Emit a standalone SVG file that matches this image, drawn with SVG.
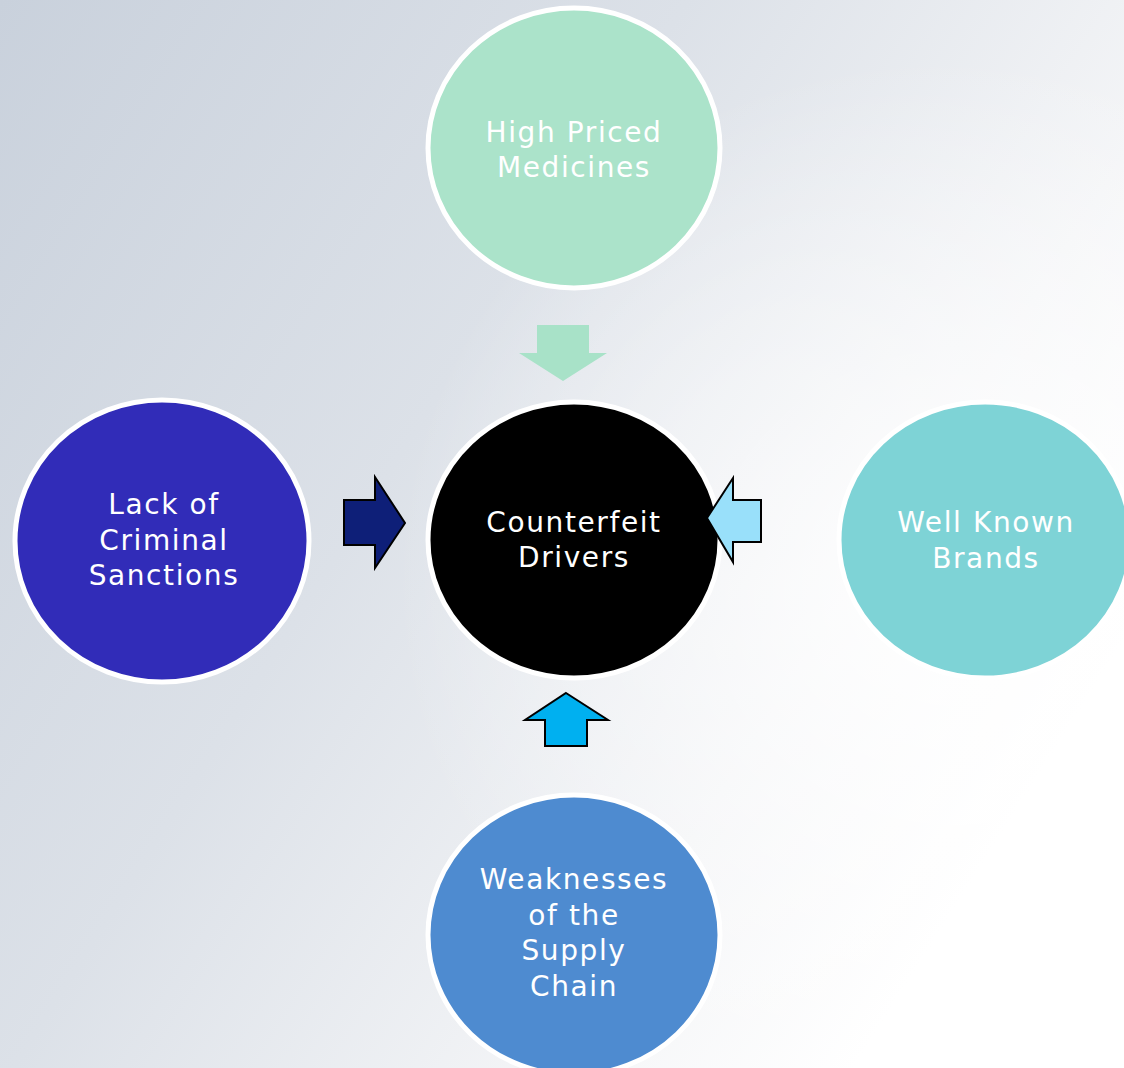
<svg xmlns="http://www.w3.org/2000/svg" width="1124" height="1068" viewBox="0 0 1124 1068">
<defs>
<linearGradient id="bg" x1="0" y1="0" x2="1" y2="0.6">
<stop offset="0" stop-color="#C9D1DC"/>
<stop offset="0.45" stop-color="#DCE1E8"/>
<stop offset="0.8" stop-color="#F4F5F7"/>
<stop offset="1" stop-color="#FFFFFF"/>
</linearGradient>
<radialGradient id="glow" cx="0.85" cy="0.55" r="0.5">
<stop offset="0" stop-color="#FFFFFF" stop-opacity="0.9"/>
<stop offset="1" stop-color="#FFFFFF" stop-opacity="0"/>
</radialGradient>
<style>
.node{stroke:#FFFFFF;stroke-width:5}
.lbl{font-family:"DejaVu Sans","Open Sans",sans-serif;font-size:28px;fill:#FFFFFF;text-anchor:middle;letter-spacing:1.6px}
.arr{stroke:#000000;stroke-width:2;stroke-linejoin:miter}
</style>
</defs>
<rect width="1124" height="1068" fill="url(#bg)"/>
<rect width="1124" height="1068" fill="url(#glow)"/>
<g id="node-top">
<ellipse class="node" cx="574" cy="148" rx="146" ry="140" fill="#ABE3CA"/>
<text class="lbl" x="574" y="142">High Priced</text>
<text class="lbl" x="574" y="177">Medicines</text>
</g>
<g id="node-center">
<ellipse class="node" cx="574" cy="540" rx="146" ry="138" fill="#000000"/>
<text class="lbl" x="574" y="532">Counterfeit</text>
<text class="lbl" x="574" y="567">Drivers</text>
</g>
<g id="node-left">
<ellipse class="node" cx="162" cy="541" rx="147" ry="141" fill="#312CB8"/>
<text class="lbl" x="164" y="514">Lack of</text>
<text class="lbl" x="164" y="550">Criminal</text>
<text class="lbl" x="164" y="585">Sanctions</text>
</g>
<g id="node-right">
<ellipse class="node" cx="985" cy="540" rx="146" ry="138" fill="#7ED3D6"/>
<text class="lbl" x="986" y="532">Well Known</text>
<text class="lbl" x="986" y="568">Brands</text>
</g>
<g id="node-bottom">
<ellipse class="node" cx="574" cy="935" rx="146" ry="140" fill="#4E8BD0"/>
<text class="lbl" x="574" y="889">Weaknesses</text>
<text class="lbl" x="574" y="925">of the</text>
<text class="lbl" x="574" y="960">Supply</text>
<text class="lbl" x="574" y="996">Chain</text>
</g>
<g id="connectors">
<polygon id="arrow-top" points="537,325 589,325 589,353 607,353 563,381 519,353 537,353" fill="#A8E2C8"/>
<polygon id="arrow-bottom" class="arr" points="566,693 608,720 587,720 587,746 545,746 545,720 525,720" fill="#00B0F0"/>
<polygon id="arrow-left" class="arr" points="344,500 375,500 375,477 405,523 375,568 375,545 344,545" fill="#0E1F78"/>
<polygon id="arrow-right" class="arr" points="707,518 733,478 733,500 761,500 761,542 733,542 733,562" fill="#99E0FA"/>
</g>
</svg>
